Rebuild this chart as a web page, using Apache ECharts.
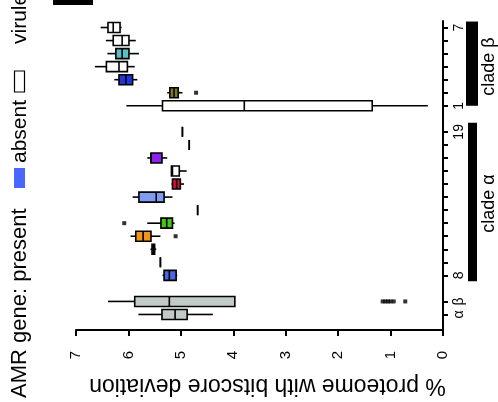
<!DOCTYPE html>
<html><head><meta charset="utf-8">
<script src="https://cdn.jsdelivr.net/npm/echarts@6/dist/echarts.min.js"></script>
<style>html,body{margin:0;padding:0;background:#fff}#c{width:498px;height:402px}</style>
</head><body><div id="c"></div>
<script>
// categories from bottom (α) to top (clade β isolate 7); gap entries are empty slots
const categories = ['α','β','gapA','8','9','10','11','12','13','14','15','16','17','18','19','gapB','1','2','3','4','5','6','7'];
const shownLabels = ['α','β','8','19','1','7'];
// box statistics (% proteome with bitscore deviation)
const boxCats   = ['α','β','8','9','10','11','12','13','14','15','16','17','18','19','1','2','3','4','5','6','7'];
const boxMin    = [4.39,3.97,5.07,5.39,5.47,5.39,5.12,4.68,5.16,4.94,4.89,5.26,4.84,4.97,0.29,4.97,5.83,5.88,5.80,5.86,6.13];
const boxQ1     = [4.88,3.97,5.09,5.39,5.50,5.57,5.16,4.68,5.32,5.01,5.03,5.36,4.84,4.97,1.35,5.05,5.92,6.02,5.99,5.99,6.16];
const boxMedian = [5.11,5.22,5.22,5.39,5.52,5.72,5.27,4.68,5.47,5.08,5.16,5.57,4.84,4.97,3.79,5.13,6.05,6.18,6.12,6.12,6.29];
const boxQ3     = [5.36,5.88,5.32,5.39,5.55,5.86,5.38,4.68,5.80,5.16,5.18,5.57,4.84,4.97,5.35,5.21,6.18,6.42,6.24,6.29,6.39];
const boxMax    = [5.81,6.39,5.35,5.39,5.58,5.96,5.64,4.68,5.92,5.18,5.18,5.64,4.84,4.97,6.04,5.26,6.27,6.64,6.40,6.43,6.53];
const boxColors = ['#c3cbc7','#c3cbc7','#4a68e4','#ffffff','#222222','#f0941c','#46c41e','#ffffff','#809cf2','#d2123c','#ffffff','#8e22ec','#ffffff','#ffffff',
                   '#ffffff','#7c7a12','#2234d6','#ffffff','#5cbfc3','#ffffff','#ffffff'];
// outliers
const outlierCats   = ['12','11','2','β','β','β','β','β','β'];
const outlierValues = [6.08,5.10,4.71,1.15,1.10,1.05,1.00,0.94,0.72];
// value axis ticks
const valueTicks = [0,1,2,3,4,5,6,7];

const FONT = 'Liberation Sans';
const chart = echarts.init(document.getElementById('c'), null, {renderer:'canvas'});

const boxData = boxCats.map((c,i)=>[categories.indexOf(c), boxMin[i], boxQ1[i], boxMedian[i], boxQ3[i], boxMax[i]]);
const outData = outlierCats.map((c,i)=>[outlierValues[i], categories.indexOf(c)]);

const BOXH = 10;
function renderBox(params, api){
  const ci = api.value(0);
  const pMin = api.coord([api.value(1), ci]);
  const pQ1 = api.coord([api.value(2), ci]);
  const pMed = api.coord([api.value(3), ci]);
  const pQ3 = api.coord([api.value(4), ci]);
  const pMax = api.coord([api.value(5), ci]);
  const y = pMin[1];
  const h = BOXH/2;
  const stroke = {stroke:'#000', lineWidth:1.6};
  const xl = Math.min(pQ1[0], pQ3[0]), xr = Math.max(pQ1[0], pQ3[0]);
  return {type:'group', children:[
    {type:'line', shape:{x1:pMin[0], y1:y, x2:pQ1[0], y2:y}, style:stroke},
    {type:'line', shape:{x1:pQ3[0], y1:y, x2:pMax[0], y2:y}, style:stroke},
    {type:'rect', shape:{x:xl, y:y-h, width:xr-xl, height:BOXH}, style:{fill:boxColors[params.dataIndex], stroke:'#000', lineWidth:1.6}},
    {type:'line', shape:{x1:pMed[0], y1:y-h, x2:pMed[0], y2:y+h}, style:stroke}
  ]};
}

chart.setOption({
  animation:false,
  backgroundColor:'#fff',
  grid:{left:76, right:55, top:21, bottom:69},
  xAxis:{
    type:'value', min:0, max:7, interval:1, inverse:true, position:'bottom', offset:9,
    name:'% proteome with bitscore deviation', nameLocation:'middle', nameGap:44, nameRotate:180,
    nameTextStyle:{fontFamily:FONT, fontSize:23, color:'#000', padding:[0,16,0,0]},
    axisLine:{show:true, lineStyle:{color:'#000', width:2}},
    axisTick:{show:true, length:6, lineStyle:{color:'#000', width:2}},
    axisLabel:{rotate:90, margin:21, fontFamily:FONT, fontSize:15, color:'#000',
      formatter:v=>valueTicks.includes(v)?String(v):''},
    splitLine:{show:false}
  },
  yAxis:{
    type:'category', data:categories, position:'right',
    axisLine:{show:true, lineStyle:{color:'#000', width:2}},
    axisTick:{show:true, alignWithLabel:true, length:5, lineStyle:{color:'#000', width:2},
      interval:(i,v)=>!String(v).startsWith('gap')},
    axisLabel:{rotate:90, margin:9, fontFamily:FONT, fontSize:14, color:'#000',
      interval:(i,v)=>shownLabels.includes(v),
      formatter:v=>shownLabels.includes(v)?v:''},
    splitLine:{show:false}
  },
  series:[
    {type:'custom', renderItem:renderBox, data:boxData, encode:{y:0, x:[1,2,3,4,5]}, z:2},
    {type:'scatter', data:outData, symbol:'rect', symbolSize:4, itemStyle:{color:'#000'}, z:3}
  ]
});

function py(c){ return chart.convertToPixel({yAxisIndex:0}, c); }
const axX = chart.convertToPixel({xAxisIndex:0}, 0);
const gridBottom = py('α') + 6.8;
chart.setOption({
  graphic:[
    // extend right axis down to the value axis
    {type:'line', shape:{x1:axX, y1:gridBottom-1, x2:axX, y2:gridBottom+10}, style:{stroke:'#000', lineWidth:2}},
    // legend (rotated)
    {type:'text', x:20, y:398, rotation:Math.PI/2, style:{text:'AMR gene: present', font:'22px '+FONT, fill:'#000', textAlign:'left', textVerticalAlign:'middle'}},
    {type:'rect', shape:{x:14, y:168, width:11, height:20}, style:{fill:'#4a66ff'}},
    {type:'text', x:20, y:163, rotation:Math.PI/2, style:{text:'absent', font:'21px '+FONT, fill:'#000', textAlign:'left', textVerticalAlign:'middle'}},
    {type:'rect', shape:{x:14.5, y:71, width:10, height:21}, style:{fill:'#fff', stroke:'#000', lineWidth:1.2}},
    {type:'text', x:20, y:44, rotation:Math.PI/2, style:{text:'virulence gene: present', font:'21px '+FONT, fill:'#000', textAlign:'left', textVerticalAlign:'middle'}},
    {type:'rect', shape:{x:53, y:-2, width:40, height:7}, style:{fill:'#000'}},
    // clade bars
    {type:'rect', shape:{x:466, y:py('7')-6, width:12, height:py('1')-py('7')+6}, style:{fill:'#000'}},
    {type:'rect', shape:{x:468, y:py('19')-9, width:9, height:py('8')-py('19')+15}, style:{fill:'#000'}},
    {type:'text', x:489, y:(py('7')+py('1'))/2, rotation:Math.PI/2, style:{text:'clade β', font:'18px '+FONT, fill:'#000', textAlign:'center', textVerticalAlign:'middle'}},
    {type:'text', x:489, y:(py('19')+py('8'))/2, rotation:Math.PI/2, style:{text:'clade α', font:'18px '+FONT, fill:'#000', textAlign:'center', textVerticalAlign:'middle'}}
  ]
});
</script></body></html>
